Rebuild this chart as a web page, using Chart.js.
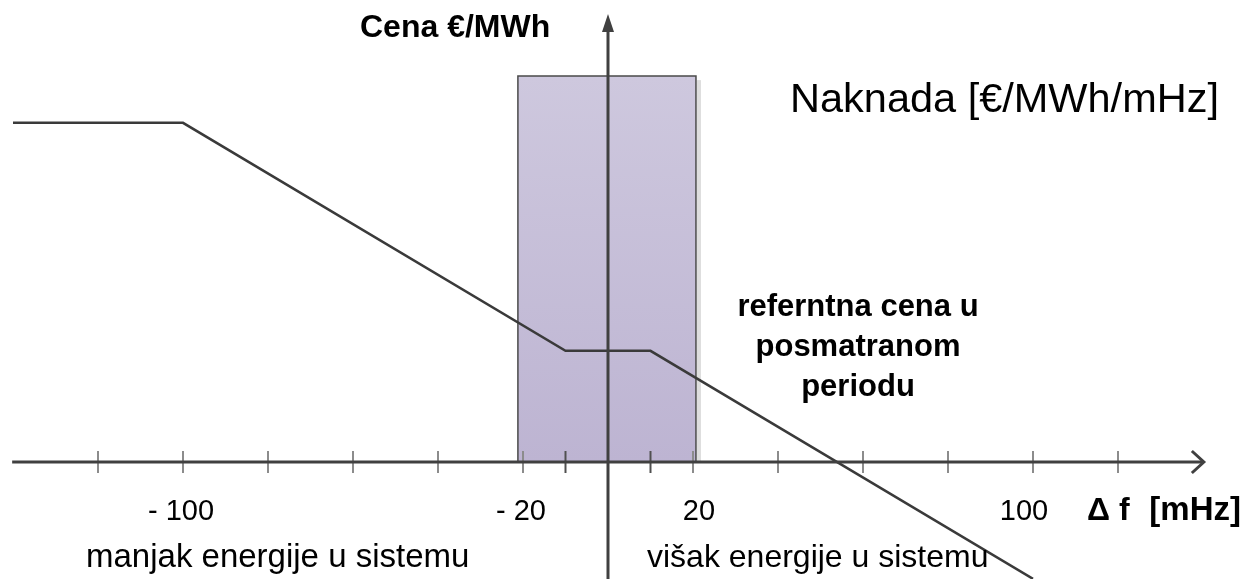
<!DOCTYPE html>
<html>
<head>
<meta charset="utf-8">
<title>Naknada</title>
<script src="https://cdn.jsdelivr.net/npm/chart.js@4.4.1/dist/chart.umd.min.js"></script>
<style>
    html, body { margin: 0; padding: 0; background: #fff; }
    #wrap { width: 1245px; height: 579px; }
</style>
</head>
<body>
<div id="wrap"><canvas id="chart" width="1245" height="579"></canvas></div>
<script>
// prelomne tacke krive: odstupanje frekvencije [mHz] i cena (relativno)
const curveFreq = [-140, -100, -10, 10, 100];
const curvePrice = [5.95, 5.95, 1.95, 1.95, -2.05];

// osenceni opseg oko nule
const bandFreq = [-21.2, -21.2, 20.7, 20.7];
const bandPrice = [0, 6.77, 6.77, 0];

// podeoci na x osi
const majorTicks = [-120, -100, -80, -60, -40, -20, 20, 40, 60, 80, 100, 120];
const minorTicks = [-10, 10];

// oznake ispod x ose
const tickLabelValues = [-100, -20, 20, 100];
const tickLabelTexts = ['- 100', '- 20', '20', '100'];

// krajevi osa
const xAxisRange = [-140.2, 140.2];
const yAxisRange = [-2.2, 7.86];

const FONT = '"Liberation Sans", Arial, sans-serif';

function bandFill(context) {
    const { ctx, chartArea, scales } = context.chart;
    if (!chartArea) return '#c6bed8';
    const top = scales.y.getPixelForValue(Math.max(...bandPrice));
    const bottom = scales.y.getPixelForValue(0);
    const g = ctx.createLinearGradient(0, top, 0, bottom);
    g.addColorStop(0, '#cec8de');
    g.addColorStop(1, '#bdb4d2');
    return g;
}

const bandShadow = {
    id: 'bandShadow',
    beforeDatasetsDraw(chart) {
        const { ctx, scales } = chart;
        const right = scales.x.getPixelForValue(Math.max(...bandFreq));
        const top = scales.y.getPixelForValue(Math.max(...bandPrice));
        const bottom = scales.y.getPixelForValue(0);
        ctx.save();
        ctx.fillStyle = '#dedede';
        ctx.fillRect(right + 1, top + 4, 4, bottom - top - 4);
        ctx.restore();
    }
};

const axesAndText = {
    id: 'axesAndText',
    afterDatasetsDraw(chart) {
        const { ctx, scales } = chart;
        const x = scales.x, y = scales.y;
        const x0 = x.getPixelForValue(0), y0 = y.getPixelForValue(0);
        const xl = x.getPixelForValue(xAxisRange[0]), xr = x.getPixelForValue(xAxisRange[1]);
        const yt = y.getPixelForValue(yAxisRange[1]), yb = y.getPixelForValue(yAxisRange[0]);

        ctx.save();
        ctx.strokeStyle = '#404040';
        ctx.fillStyle = '#404040';
        ctx.lineWidth = 3;
        // x osa sa otvorenom strelicom
        ctx.beginPath();
        ctx.moveTo(xl, y0);
        ctx.lineTo(xr, y0);
        ctx.stroke();
        ctx.beginPath();
        ctx.moveTo(xr - 12, y0 - 11);
        ctx.lineTo(xr, y0);
        ctx.lineTo(xr - 12, y0 + 11);
        ctx.stroke();
        // y osa sa punom strelicom
        ctx.beginPath();
        ctx.moveTo(x0, yb);
        ctx.lineTo(x0, yt + 14);
        ctx.stroke();
        ctx.beginPath();
        ctx.moveTo(x0, yt);
        ctx.lineTo(x0 + 6, yt + 18);
        ctx.lineTo(x0 - 6, yt + 18);
        ctx.closePath();
        ctx.fill();
        ctx.restore();
    },
    afterDraw(chart) {
        const { ctx, scales } = chart;
        const x = scales.x;
        const labelShift = [-2, -2, 6, -9];
        ctx.save();
        ctx.fillStyle = '#000';
        ctx.textBaseline = 'alphabetic';

        ctx.textAlign = 'center';
        ctx.font = '29px ' + FONT;
        tickLabelValues.forEach((v, i) => {
            ctx.fillText(tickLabelTexts[i], x.getPixelForValue(v) + labelShift[i], 520);
        });

        ctx.textAlign = 'left';
        ctx.font = 'bold 32px ' + FONT;
        ctx.fillText('Cena €/MWh', 360, 37);
        ctx.fillText('Δ f', 1087, 520);
        ctx.textAlign = 'right';
        ctx.font = 'bold 33px ' + FONT;
        ctx.fillText('[mHz]', 1241, 520);

        ctx.textAlign = 'left';
        ctx.font = '41.5px ' + FONT;
        ctx.fillText('Naknada [€/MWh/mHz]', 790, 112);

        ctx.font = '33px ' + FONT;
        ctx.fillText('manjak energije u sistemu', 86, 567);
        ctx.font = '32px ' + FONT;
        ctx.fillText('višak energije u sistemu', 647, 567);

        ctx.textAlign = 'center';
        ctx.font = 'bold 31px ' + FONT;
        ctx.fillText('referntna cena u', 858, 316);
        ctx.fillText('posmatranom', 858, 356);
        ctx.fillText('periodu', 858, 396);
        ctx.restore();
    }
};

const tickStyle = (color) => ({
    showLine: false,
    pointStyle: 'line',
    pointRotation: 90,
    pointRadius: 11,
    pointHoverRadius: 11,
    pointBorderColor: color,
    pointBorderWidth: 2
});

new Chart(document.getElementById('chart'), {
    type: 'scatter',
    data: {
        datasets: [
            {
                label: 'Naknada',
                data: curveFreq.map((f, i) => ({ x: f, y: curvePrice[i] })),
                showLine: true,
                borderColor: '#3a3a3a',
                borderWidth: 2.5,
                pointRadius: 0,
                fill: false,
                clip: false,
                order: 1
            },
            Object.assign({
                label: 'podeoci',
                data: majorTicks.map(f => ({ x: f, y: 0 })),
                order: 2
            }, tickStyle('#8c8c8c')),
            Object.assign({
                label: 'pomocni podeoci',
                data: minorTicks.map(f => ({ x: f, y: 0 })),
                order: 2
            }, tickStyle('#505050')),
            {
                label: 'opseg',
                data: bandFreq.map((f, i) => ({ x: f, y: bandPrice[i] })),
                showLine: true,
                borderColor: '#4a4a4a',
                borderWidth: 1.5,
                pointRadius: 0,
                fill: 'origin',
                backgroundColor: bandFill,
                order: 3
            }
        ]
    },
    options: {
        responsive: false,
        animation: false,
        events: [],
        layout: { padding: 0, autoPadding: false },
        plugins: {
            legend: { display: false },
            tooltip: { enabled: false }
        },
        scales: {
            x: { type: 'linear', display: false, min: -608 / 4.25, max: (1245 - 608) / 4.25 },
            y: { type: 'linear', display: false, min: -117 / 57, max: 462 / 57 }
        }
    },
    plugins: [bandShadow, axesAndText]
});
</script>
</body>
</html>
